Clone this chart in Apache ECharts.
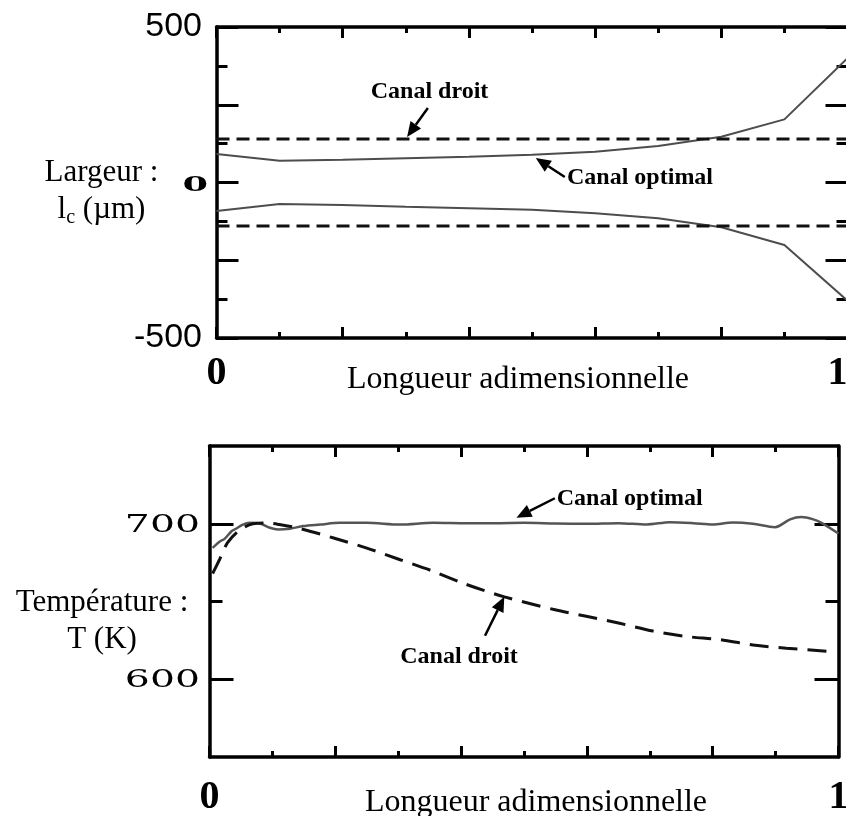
<!DOCTYPE html>
<html>
<head>
<meta charset="utf-8">
<script src="https://cdn.jsdelivr.net/npm/echarts@6/dist/echarts.min.js"></script>
<style>
  html, body { margin: 0; padding: 0; background: #fff; }
  #chart { width: 846px; height: 816px; }
</style>
</head>
<body>
<div id="chart"></div>
<script>
// ---- Channel width along the dimensionless length ----
const widthX = [0, 0.1, 0.2, 0.3, 0.4, 0.5, 0.6, 0.7, 0.8, 0.9, 1.0];
const optimalUpper = [92, 70, 73, 78, 83, 89, 99, 117, 147, 203, 400];
const optimalLower = [-92, -69, -72, -78, -83, -88, -99, -115, -144, -201, -380];
const straightX = [0, 1];
const straightUpper = [140, 140];
const straightLower = [-140, -140];

// ---- Temperature along the dimensionless length ----
const optimalTX = [0.005, 0.017, 0.024, 0.035, 0.042, 0.053, 0.064, 0.08, 0.096, 0.109, 0.128,
  0.149, 0.176, 0.207, 0.25, 0.303, 0.356, 0.409, 0.462, 0.5, 0.55, 0.6, 0.65, 0.695, 0.732,
  0.769, 0.8, 0.832, 0.864, 0.899, 0.923, 0.941, 0.96, 0.973, 1.0];
const optimalT = [684.5, 688.8, 690.3, 695.2, 696.8, 699.5, 700.6, 700.2, 697.4, 696.3, 696.8,
  698.5, 699.5, 700.6, 700.6, 699.5, 700.6, 700.3, 700.4, 700.6, 700.2, 700, 700.4, 699.5, 701,
  700.4, 699.5, 700.8, 700, 697.8, 702.8, 704.3, 702.8, 700.6, 693.7];
const straightTX = [0.005, 0.016, 0.029, 0.048, 0.069, 0.09, 0.111, 0.143, 0.196, 0.249, 0.302,
  0.355, 0.408, 0.469, 0.546, 0.599, 0.652, 0.705, 0.758, 0.811, 0.864, 0.917, 0.983];
const straightT = [668, 677, 688, 696, 700, 700.5, 699.5, 697, 691, 684.5, 677,
  669.5, 661, 653, 645, 640.5, 636, 631, 627.5, 625.5, 622, 620, 618];

// ---- Tick labels ----
const xTickLabels = [0, 1];
const widthSansLabels = [500, -500];
const widthSerifLabels = [0];
const tempLabels = [600, 700];
const tempMinorTicks = [650];

const pairs = (xs, ys) => xs.map((x, i) => [x, ys[i]]);

const BLACK = '#000';
const serif = "'Liberation Serif', 'Times New Roman', serif";

function xAxisDef(gridIndex, position, withLabels, margin, alignMax) {
  return {
    type: 'value', gridIndex, position, min: 0, max: 1, interval: 0.2,
    axisLine: { show: true, onZero: false, lineStyle: { color: BLACK, width: 3.5 } },
    axisTick: { show: true, inside: true, length: 11, lineStyle: { color: BLACK, width: 3 } },
    minorTick: { show: true, splitNumber: 2, length: 6, lineStyle: { color: BLACK, width: 3 } },
    splitLine: { show: false },
    axisLabel: withLabels ? {
      show: true, margin,
      fontFamily: serif, fontWeight: 'bold', fontSize: 40, color: BLACK,
      alignMaxLabel: alignMax,
      formatter: v => (xTickLabels.some(t => Math.abs(t - v) < 1e-9) ? String(Math.round(v)) : '')
    } : { show: false }
  };
}

function widthYAxis(position, withLabels) {
  return {
    type: 'value', gridIndex: 0, position, min: -500, max: 500, interval: 250,
    axisLine: { show: true, onZero: false, lineStyle: { color: BLACK, width: 3.5 } },
    axisTick: { show: true, inside: true, length: 22, lineStyle: { color: BLACK, width: 3 } },
    minorTick: { show: true, splitNumber: 2, length: 11, lineStyle: { color: BLACK, width: 3 } },
    splitLine: { show: false },
    axisLabel: withLabels ? {
      show: true, margin: 14.5,
      fontFamily: "'Liberation Sans', Arial, sans-serif", fontSize: 34, color: BLACK,
      formatter: v => (widthSansLabels.includes(v) ? String(v) : '')
    } : { show: false }
  };
}

function tempYAxis(position, ticks, len, withLine) {
  return {
    type: 'value', gridIndex: 1, position, min: 550, max: 750, interval: 50,
    axisLine: { show: withLine, onZero: false, lineStyle: { color: BLACK, width: 3.5 } },
    axisTick: { show: true, inside: true, length: len, customValues: ticks,
      lineStyle: { color: BLACK, width: 3 } },
    splitLine: { show: false },
    axisLabel: { show: false }
  };
}

const chart = echarts.init(document.getElementById('chart'), null, { renderer: 'canvas' });

chart.setOption({
  animation: false,
  backgroundColor: '#fff',
  grid: [
    { left: 216.5, top: 27, width: 631, height: 311, outerBoundsMode: 'none', containLabel: false },
    { left: 209.5, top: 446, width: 629, height: 311, outerBoundsMode: 'none', containLabel: false }
  ],
  xAxis: [
    xAxisDef(0, 'bottom', true, 16, 'right'),
    xAxisDef(0, 'top', false),
    xAxisDef(1, 'bottom', true, 21, 'center'),
    xAxisDef(1, 'top', false)
  ],
  yAxis: [
    widthYAxis('left', true),
    widthYAxis('right', false),
    tempYAxis('left', tempLabels, 24, true),
    tempYAxis('left', tempMinorTicks, 13, false),
    tempYAxis('right', tempLabels, 24, true),
    tempYAxis('right', tempMinorTicks, 13, false)
  ],
  series: [
    { name: 'Canal optimal', type: 'line', xAxisIndex: 0, yAxisIndex: 0,
      data: pairs(widthX, optimalUpper), showSymbol: false,
      lineStyle: { color: '#4d4d4d', width: 2 } },
    { name: 'Canal optimal', type: 'line', xAxisIndex: 0, yAxisIndex: 0,
      data: pairs(widthX, optimalLower), showSymbol: false,
      lineStyle: { color: '#4d4d4d', width: 2 } },
    { name: 'Canal droit', type: 'line', xAxisIndex: 0, yAxisIndex: 0,
      data: pairs(straightX, straightUpper), showSymbol: false,
      lineStyle: { color: '#111', width: 3, type: [13, 7] } },
    { name: 'Canal droit', type: 'line', xAxisIndex: 0, yAxisIndex: 0,
      data: pairs(straightX, straightLower), showSymbol: false,
      lineStyle: { color: '#111', width: 3, type: [13, 7] } },
    { name: 'Canal optimal', type: 'line', xAxisIndex: 2, yAxisIndex: 2,
      data: pairs(optimalTX, optimalT), showSymbol: false, smooth: 0.3,
      lineStyle: { color: '#555', width: 2.5 } },
    { name: 'Canal droit', type: 'line', xAxisIndex: 2, yAxisIndex: 2,
      data: pairs(straightTX, straightT), showSymbol: false, smooth: 0.3,
      lineStyle: { color: '#111', width: 3, type: [19, 10] } }
  ]
});

// ---- Annotations, labels and arrows placed through the axes' scales ----
const toTop = (x, y) => chart.convertToPixel({ xAxisIndex: 0, yAxisIndex: 0 }, [x, y]);
const toBottom = (x, y) => chart.convertToPixel({ xAxisIndex: 2, yAxisIndex: 2 }, [x, y]);

function text(x, y, str, opts) {
  const o = Object.assign({ size: 24, weight: 'normal', family: serif, align: 'center', vAlign: 'middle' }, opts || {});
  const el = {
    type: 'text', x, y, z: 100,
    style: {
      text: str, fill: BLACK,
      fontFamily: o.family, fontSize: o.size, fontWeight: o.weight,
      align: o.align, verticalAlign: o.vAlign,
      textAlign: o.align, textVerticalAlign: o.vAlign
    }
  };
  if (o.scaleX) el.scaleX = o.scaleX;
  if (o.rich) el.style.rich = o.rich;
  if (o.lineHeight) el.style.lineHeight = o.lineHeight;
  return el;
}

function arrow(tail, head) {
  const dx = head[0] - tail[0], dy = head[1] - tail[1];
  const len = Math.hypot(dx, dy);
  const ux = dx / len, uy = dy / len;
  const hl = 15, hw = 6.5;
  const base = [head[0] - ux * hl, head[1] - uy * hl];
  return [
    { type: 'line', z: 100, shape: { x1: tail[0], y1: tail[1], x2: base[0], y2: base[1] },
      style: { stroke: BLACK, lineWidth: 2.5 } },
    { type: 'polygon', z: 100,
      shape: { points: [head, [base[0] - uy * hw, base[1] + ux * hw], [base[0] + uy * hw, base[1] - ux * hw]] },
      style: { fill: BLACK } }
  ];
}

const elements = [];

// Wide serif tick labels on the y axes
widthSerifLabels.forEach(v => {
  const p = toTop(0, v);
  elements.push(text(p[0] - 8.5, p[1] + 3, String(v),
    { family: "'DejaVu Serif', serif", size: 21, weight: 'bold', align: 'right', scaleX: 1.75 }));
});
tempLabels.forEach(v => {
  const p = toBottom(0, v);
  elements.push(text(p[0] - 9.5, p[1] + 2, String(v),
    { family: "'DejaVu Serif', serif", size: 24, align: 'right', scaleX: 1.64 }));
});

// Axis titles
elements.push(text(518, 380, 'Longueur adimensionnelle', { size: 32 }));
elements.push(text(536, 803, 'Longueur adimensionnelle', { size: 32 }));
elements.push(text(101.5, 191, '{m|Largeur :}\n{m|l}{s|c}{m| (µm)}', {
  size: 31,
  rich: {
    m: { fontFamily: serif, fontSize: 31, lineHeight: 37, verticalAlign: 'middle', fill: BLACK, color: BLACK },
    s: { fontFamily: serif, fontSize: 20, lineHeight: 20, verticalAlign: 'bottom', fill: BLACK, color: BLACK }
  }
}));
elements.push(text(102, 621, 'Température :\nT (K)', { size: 31, lineHeight: 37 }));

// Top panel call-outs
{
  const t = toTop(0.3376, 291);
  elements.push(text(t[0], t[1], 'Canal droit', { size: 24, weight: 'bold' }));
  elements.push(...arrow(toTop(0.335, 239.5), toTop(0.302, 146.3)));
  const o = toTop(0.5555, 14.5);
  elements.push(text(o[0], o[1], 'Canal optimal', { size: 24, weight: 'bold', align: 'left' }));
  elements.push(...arrow(toTop(0.552, 17.7), toTop(0.506, 78.8)));
}
// Bottom panel call-outs
{
  const o = toBottom(0.552, 716.2);
  elements.push(text(o[0], o[1], 'Canal optimal', { size: 24, weight: 'bold', align: 'left' }));
  elements.push(...arrow(toBottom(0.549, 716.4), toBottom(0.488, 703.9)));
  const d = toBottom(0.3967, 614.3);
  elements.push(text(d[0], d[1], 'Canal droit', { size: 24, weight: 'bold' }));
  elements.push(...arrow(toBottom(0.438, 628), toBottom(0.4687, 653.1)));
}

chart.setOption({ graphic: { elements } });
</script>
</body>
</html>
